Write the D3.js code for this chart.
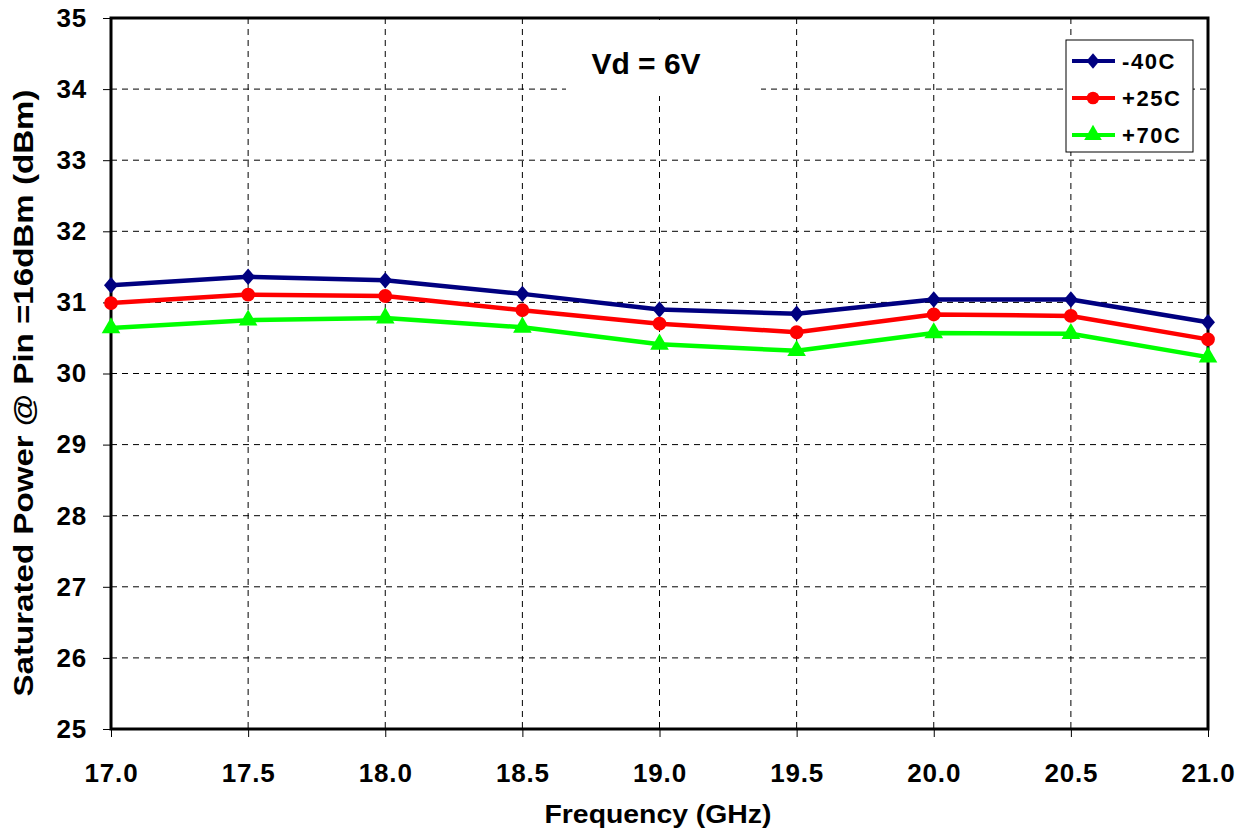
<!DOCTYPE html>
<html>
<head>
<meta charset="utf-8">
<script src="https://cdn.jsdelivr.net/npm/d3@7"></script>
<style>
  html, body { margin: 0; padding: 0; background: #fff; }
  svg { display: block; font-family: "Liberation Sans", Arial, sans-serif; }
</style>
</head>
<body>
<svg id="chart" width="1251" height="832"></svg>
<script>
// Frequency points (GHz)
const freqs = [17.0, 17.5, 18.0, 18.5, 19.0, 19.5, 20.0, 20.5, 21.0];
// Saturated output power (dBm) at each temperature
const pMinus40 = [31.24, 31.36, 31.31, 31.12, 30.90, 30.84, 31.04, 31.04, 30.72];
const pPlus25  = [30.99, 31.11, 31.09, 30.89, 30.70, 30.58, 30.83, 30.81, 30.48];
const pPlus70  = [30.64, 30.75, 30.78, 30.65, 30.41, 30.32, 30.57, 30.56, 30.23];
const seriesNames = ["-40C", "+25C", "+70C"];
const seriesColors = ["#000080", "#FF0000", "#00FF00"];
const xTicks = [17.0, 17.5, 18.0, 18.5, 19.0, 19.5, 20.0, 20.5, 21.0];
const yTicks = [25, 26, 27, 28, 29, 30, 31, 32, 33, 34, 35];

// Slightly narrow diamond marker
const narrowDiamond = {
  draw(ctx, size) {
    const hh = Math.sqrt(size / 1.7), hw = hh * 0.85;
    ctx.moveTo(0, -hh); ctx.lineTo(hw, 0); ctx.lineTo(0, hh); ctx.lineTo(-hw, 0); ctx.closePath();
  }
};
const seriesSymbols = [narrowDiamond, d3.symbolCircle, d3.symbolTriangle];
const markerSizes = [115, 150, 150];
const legendMarkerSizes = [100, 125, 135];

const series = [pMinus40, pPlus25, pPlus70].map((vals, i) => ({
  name: seriesNames[i], color: seriesColors[i], symbol: seriesSymbols[i],
  size: markerSizes[i], legendSize: legendMarkerSizes[i],
  points: vals.map((v, j) => ({ f: freqs[j], p: v }))
}));

const svg = d3.select("#chart");
const plotL = 111, plotR = 1208, plotT = 18, plotB = 729;

const x = d3.scaleLinear().domain([17, 21]).range([plotL, plotR]);
const y = d3.scaleLinear().domain([25, 35]).range([plotB, plotT]);

// Dashed grid
const grid = svg.append("g");
grid.selectAll("line.h").data(yTicks.slice(1, -1)).join("line")
  .attr("x1", plotL).attr("x2", plotR)
  .attr("y1", d => y(d)).attr("y2", d => y(d))
  .attr("stroke", "#000").attr("stroke-width", 1).attr("stroke-dasharray", "6,5");
grid.selectAll("line.v").data(xTicks.slice(1, -1)).join("line")
  .attr("y1", plotT).attr("y2", plotB)
  .attr("x1", d => x(d)).attr("x2", d => x(d))
  .attr("stroke", "#000").attr("stroke-width", 1).attr("stroke-dasharray", "6,5");

// Axes with outward ticks
const yAxis = svg.append("g").attr("transform", `translate(${plotL},0)`)
  .call(d3.axisLeft(y).tickValues(yTicks).tickSize(8).tickPadding(16).tickFormat(d3.format("d")));
const xAxis = svg.append("g").attr("transform", `translate(0,${plotB})`)
  .call(d3.axisBottom(x).tickValues(xTicks).tickSize(8).tickPadding(27).tickFormat(d3.format(".1f")));
[yAxis, xAxis].forEach(g => {
  g.select(".domain").remove();
  g.selectAll(".tick line").attr("stroke", "#000").attr("stroke-width", 1);
  g.selectAll(".tick text").attr("fill", "#000")
    .style("font-size", "26px").style("font-weight", "bold").style("letter-spacing", "0.8px")
    .style("font-family", "'Liberation Sans', Arial, sans-serif");
});

// Title box covering the grid behind the annotation
svg.append("rect").attr("x", 566).attr("y", plotT + 2).attr("width", 195).attr("height", 76)
  .attr("fill", "#fff");
svg.append("text").attr("x", 646).attr("y", 74).attr("text-anchor", "middle")
  .style("font-size", "30px").style("font-weight", "bold").text("Vd = 6V");

// Plot frame
svg.append("rect").attr("x", plotL).attr("y", plotT)
  .attr("width", plotR - plotL).attr("height", plotB - plotT)
  .attr("fill", "none").attr("stroke", "#000").attr("stroke-width", 3);

// Series lines and markers
const line = d3.line().x(d => x(d.f)).y(d => y(d.p));
series.forEach(s => {
  const g = svg.append("g");
  g.append("path").datum(s.points).attr("d", line)
    .attr("fill", "none").attr("stroke", s.color).attr("stroke-width", 4.5)
    .attr("stroke-linejoin", "round");
  g.selectAll("path.m").data(s.points).join("path")
    .attr("transform", d => `translate(${x(d.f)},${y(d.p)})`)
    .attr("d", d3.symbol().type(s.symbol).size(s.size))
    .attr("fill", s.color);
});

// Legend
const legend = svg.append("g");
legend.append("rect").attr("x", 1066).attr("y", 40).attr("width", 127).attr("height", 112)
  .attr("fill", "#fff").attr("stroke", "#000").attr("stroke-width", 1);
series.forEach((s, i) => {
  const ly = 61 + i * 37;
  legend.append("line").attr("x1", 1072).attr("x2", 1115).attr("y1", ly).attr("y2", ly)
    .attr("stroke", s.color).attr("stroke-width", 4);
  legend.append("path").attr("transform", `translate(1093,${ly})`)
    .attr("d", d3.symbol().type(s.symbol).size(s.legendSize))
    .attr("fill", s.color);
  legend.append("text").attr("x", 1122).attr("y", ly + 8)
    .style("font-size", "22px").style("font-weight", "bold").style("letter-spacing", "1.6px")
    .text(s.name);
});

// Axis titles
svg.append("text").attr("x", 658).attr("y", 823).attr("text-anchor", "middle")
  .attr("textLength", 227).attr("lengthAdjust", "spacingAndGlyphs")
  .style("font-size", "25px").style("font-weight", "bold").text("Frequency (GHz)");
svg.append("text").attr("transform", `translate(33,${393}) rotate(-90)`)
  .attr("text-anchor", "middle")
  .attr("textLength", 607).attr("lengthAdjust", "spacingAndGlyphs")
  .style("font-size", "27px").style("font-weight", "bold")
  .text("Saturated Power @ Pin =16dBm (dBm)");
</script>
</body>
</html>
